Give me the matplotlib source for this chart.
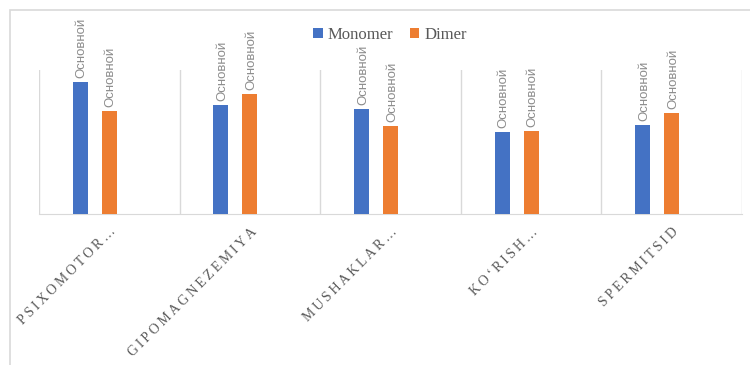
import matplotlib
matplotlib.use("Agg")
import matplotlib.pyplot as plt
from matplotlib.patches import Rectangle
import numpy as np

categories = ["PSIXOMOTOR…", "GIPOMAGNEZEMIYA", "MUSHAKLAR…", "KO‘RISH…", "SPERMITSID"]
series_names = ["Monomer", "Dimer"]
monomer = [132, 109, 105, 82, 89]
dimer = [103, 120, 88, 83, 101]
point_label = "Основной"

colors = ["#4472C4", "#ED7D31"]

fig = plt.figure(figsize=(7.5, 3.65), dpi=100)
ax = fig.add_axes([39/750, (365-214)/365, (742-39)/750, (214-70)/365])

# outer chart frame
fig.patches.append(Rectangle((10/750, -0.1), 1.1, 1 - 10/365 + 0.1, transform=fig.transFigure,
                             fill=False, edgecolor="#d9d9d9", lw=1.2))

x = np.arange(len(categories))
slot = 29/140.6
width = 15/140.6
offsets = [-slot, 0.0]  # third slot of the group is empty
for vals, off, c, name in zip([monomer, dimer], offsets, colors, series_names):
    bars = ax.bar(x + off, vals, width=width, color=c, label=name, zorder=3)
    for b, v in zip(bars, vals):
        ax.text(b.get_x() + b.get_width()/2 + 0.01, v + 4, point_label, rotation=90,
                ha="center", va="bottom", fontsize=9.5, color="#8c8c8c",
                family=["Liberation Sans", "DejaVu Sans"])

ax.set_xlim(-0.5, len(categories) - 0.5)
ax.set_ylim(0, 144)
for b in np.arange(-0.5, len(categories)):
    ax.axvline(b, color="#d9d9d9", lw=1, zorder=1)
for s in ["top", "right", "left"]:
    ax.spines[s].set_visible(False)
ax.spines["bottom"].set_color("#d9d9d9")
ax.set_yticks([])
ax.set_xticks(x)
spaced = ["\u2009".join(list(c)) for c in categories]
ax.set_xticklabels(spaced, rotation=45, ha="right", va="top", rotation_mode="anchor",
                   fontsize=10, color="#595959", family=["Liberation Serif", "DejaVu Serif"])
ax.tick_params(axis="x", length=0, pad=8)
ax.patch.set_alpha(0)

leg = fig.legend(loc="center", bbox_to_anchor=(390/750, 1 - 35/365), ncol=2, frameon=False,
                 prop={"family": ["Liberation Serif", "DejaVu Serif"], "size": 12},
                 handlelength=0.55, handleheight=0.55, handletextpad=0.3, columnspacing=1.0)
for t in leg.get_texts():
    t.set_color("#595959")

fig.savefig("out.png", dpi=100)
